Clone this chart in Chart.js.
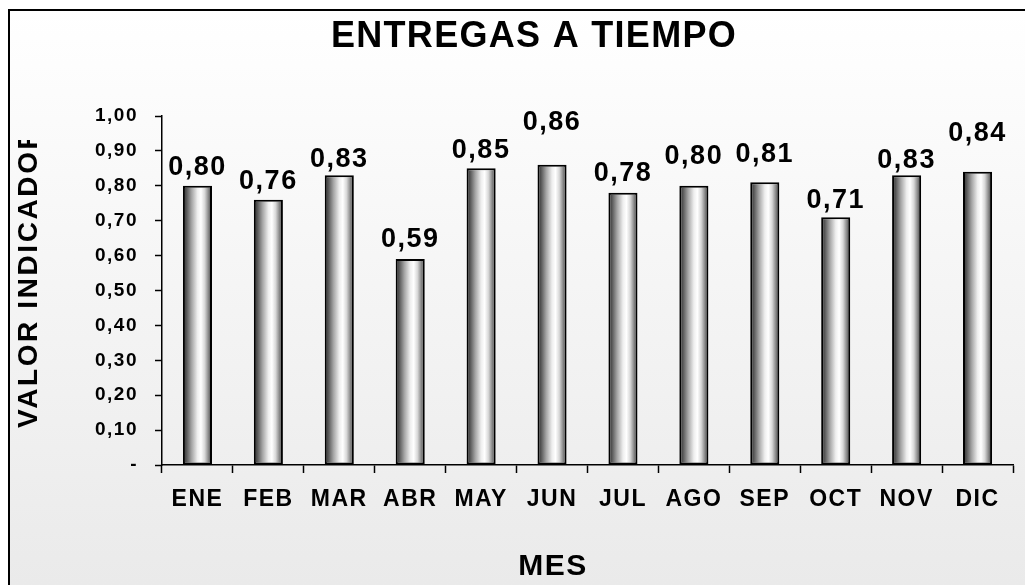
<!DOCTYPE html>
<html lang="es">
<head>
  <meta charset="UTF-8">
  <title>Entregas a tiempo</title>
  <script src="https://cdn.jsdelivr.net/npm/chart.js"></script>
  <style>
    body { margin: 0; background: #fff; }
    canvas { display: block; }
  </style>
</head>
<body>
  <canvas id="grafico" width="1025" height="585"></canvas>

  <script>
    // Datos
    const meses = ['ENE', 'FEB', 'MAR', 'ABR', 'MAY', 'JUN', 'JUL', 'AGO', 'SEP', 'OCT', 'NOV', 'DIC'];
    const valores = [0.80, 0.76, 0.83, 0.59, 0.85, 0.86, 0.78, 0.80, 0.81, 0.71, 0.83, 0.84];
    const titulo = 'ENTREGAS A TIEMPO';
    const tituloY = 'VALOR INDICADOR';
    const tituloX = 'MES';

    // separacion (px) entre la etiqueta y la barra, como en el original
    const separacionEtiqueta = [11, 11, 8, 12, 10, 35, 12, 22, 20, 9, 7, 31];

    const fuente = "'Liberation Sans', Arial, sans-serif";
    const anchoBarra = 0.41;

    function formato(v) {
      return v === 0 ? '-' : v.toFixed(2).replace('.', ',');
    }

    // degradado horizontal tipo cilindro para cada barra
    function degradadoBarra(context) {
      const chart = context.chart;
      const x = chart.scales.x;
      if (!x || context.dataIndex === undefined || !chart.chartArea) return '#cccccc';
      const centro = x.getPixelForValue(context.dataIndex);
      const medio = (x.width / meses.length) * anchoBarra / 2;
      if (!isFinite(centro) || !isFinite(medio) || medio <= 0) return '#cccccc';
      const g = chart.ctx.createLinearGradient(centro - medio, 0, centro + medio, 0);
      g.addColorStop(0, '#2a2a2a');
      g.addColorStop(0.12, '#555555');
      g.addColorStop(0.3, '#a5a5a5');
      g.addColorStop(0.5, '#eeeeee');
      g.addColorStop(0.62, '#ffffff');
      g.addColorStop(0.75, '#d8d8d8');
      g.addColorStop(0.88, '#888888');
      g.addColorStop(1, '#383838');
      return g;
    }

    const fondo = {
      id: 'fondo',
      beforeDraw(chart) {
        const ctx = chart.ctx;
        ctx.save();
        ctx.fillStyle = '#ffffff';
        ctx.fillRect(0, 0, chart.width, chart.height);
        const g = ctx.createLinearGradient(0, 10, 0, chart.height);
        g.addColorStop(0, '#ffffff');
        g.addColorStop(1, '#eaeaea');
        ctx.fillStyle = g;
        ctx.fillRect(9, 10, chart.width - 9, chart.height - 10);
        ctx.strokeStyle = '#000';
        ctx.lineWidth = 2;
        ctx.beginPath();
        ctx.moveTo(9, chart.height);
        ctx.lineTo(9, 10);
        ctx.lineTo(chart.width, 10);
        ctx.stroke();
        ctx.restore();
        chart.ctx.letterSpacing = '1.5px';
      },
      afterDraw(chart) {
        chart.ctx.letterSpacing = '0px';
      }
    };

    const textos = {
      id: 'textos',
      afterDatasetsDraw(chart) {
        const ctx = chart.ctx;
        const meta = chart.getDatasetMeta(0);
        ctx.save();
        ctx.fillStyle = '#000';
        ctx.letterSpacing = '1.5px';
        ctx.font = 'bold 27px ' + fuente;
        ctx.textAlign = 'center';
        ctx.textBaseline = 'alphabetic';
        meta.data.forEach((barra, i) => {
          ctx.fillText(formato(valores[i]), barra.x, barra.y - separacionEtiqueta[i]);
        });

        // titulo
        ctx.letterSpacing = '1.3px';
        ctx.font = 'bold 36px ' + fuente;
        ctx.fillText(titulo, 534, 47);

        // titulo eje X
        ctx.letterSpacing = '1.5px';
        ctx.font = 'bold 30px ' + fuente;
        ctx.fillText(tituloX, 553, 575);

        // titulo eje Y (recortado como en el original)
        ctx.beginPath();
        ctx.rect(0, 140, 80, 445);
        ctx.clip();
        ctx.translate(37, 428);
        ctx.rotate(-Math.PI / 2);
        ctx.textAlign = 'left';
        ctx.letterSpacing = '2.6px';
        ctx.font = 'bold 28px ' + fuente;
        ctx.fillText(tituloY, 0, 0);
        ctx.restore();
      }
    };

    new Chart(document.getElementById('grafico'), {
      type: 'bar',
      data: {
        labels: meses,
        datasets: [{
          data: valores,
          backgroundColor: degradadoBarra,
          borderColor: '#000',
          borderWidth: 2,
          borderSkipped: false,
          categoryPercentage: 1,
          barPercentage: anchoBarra
        }]
      },
      options: {
        responsive: false,
        animation: false,
        events: [],
        layout: { padding: { left: 0, right: 12, top: 116, bottom: 0 } },
        plugins: {
          legend: { display: false },
          title: { display: false },
          tooltip: { enabled: false }
        },
        scales: {
          x: {
            afterFit: s => { s.height = 120; },
            grid: { offset: true, drawOnChartArea: false, tickLength: 8, color: '#000', tickWidth: 1.5 },
            border: { color: '#000', width: 1.5 },
            ticks: {
              color: '#000',
              padding: 13,
              maxRotation: 0,
              font: { family: fuente, size: 23, weight: 'bold' }
            }
          },
          y: {
            min: 0,
            max: 1,
            afterFit: s => { s.width = 162; },
            grid: { drawOnChartArea: false, tickLength: 7, color: '#000', tickWidth: 1.5 },
            border: { color: '#000', width: 1.5 },
            ticks: {
              stepSize: 0.1,
              color: '#000',
              padding: 17,
              font: { family: fuente, size: 19, weight: 'bold' },
              callback: v => formato(v)
            }
          }
        }
      },
      plugins: [fondo, textos]
    });
  </script>
</body>
</html>
